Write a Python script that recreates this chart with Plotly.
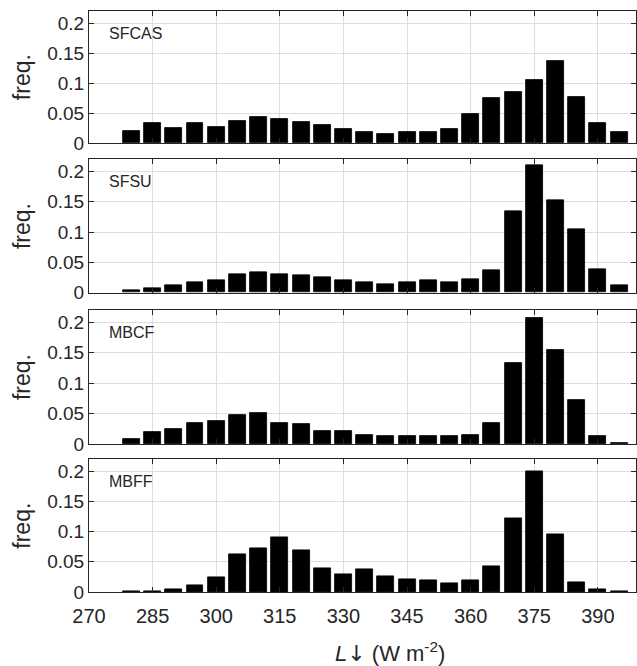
import plotly.graph_objects as go

# ---- data ----
bin_centers = [280, 285, 290, 295, 300, 305, 310, 315, 320, 325, 330, 335,
               340, 345, 350, 355, 360, 365, 370, 375, 380, 385, 390, 395]
sfcas = [0.020, 0.034, 0.026, 0.034, 0.027, 0.037, 0.043, 0.041, 0.035, 0.031, 0.023, 0.018,
         0.015, 0.018, 0.019, 0.023, 0.048, 0.076, 0.085, 0.105, 0.137, 0.077, 0.034, 0.019]
sfsu = [0.0044, 0.008, 0.012, 0.018, 0.021, 0.031, 0.033, 0.031, 0.029, 0.025, 0.020, 0.018,
        0.014, 0.018, 0.020, 0.017, 0.023, 0.037, 0.134, 0.210, 0.153, 0.104, 0.038, 0.012]
mbcf = [0.009, 0.019, 0.024, 0.034, 0.038, 0.048, 0.051, 0.035, 0.033, 0.022, 0.022, 0.015,
        0.013, 0.013, 0.013, 0.013, 0.015, 0.035, 0.133, 0.207, 0.155, 0.072, 0.014, 0.001]
mbff = [0.0005, 0.001, 0.004, 0.011, 0.024, 0.063, 0.073, 0.091, 0.069, 0.039, 0.029, 0.037,
        0.026, 0.021, 0.019, 0.014, 0.020, 0.043, 0.123, 0.200, 0.095, 0.016, 0.004, 0.001]
series = [sfcas, sfsu, mbcf, mbff]
panel_names = ["SFCAS", "SFSU", "MBCF", "MBFF"]

x_ticks = [270, 285, 300, 315, 330, 345, 360, 375, 390]
y_ticks = [0, 0.05, 0.1, 0.15, 0.2]
y_ticklabels = ["0", "0.05", "0.1", "0.15", "0.2"]

# ---- layout ----
W, H = 637, 666
mt, mb = 11, 74
domains = [[0.7723, 1.0], [0.5151, 0.7448], [0.2547, 0.4854], [0.0, 0.2284]]

FONT = "Liberation Sans, Arial, sans-serif"
TXT = "#262626"
AX = "#262626"
GRID = "#dedede"

fig = go.Figure()
layout = dict(
    width=W, height=H,
    margin=dict(l=89, r=1, t=mt, b=mb),
    plot_bgcolor="white", paper_bgcolor="white",
    showlegend=False, bargap=0,
    font=dict(family=FONT, color=TXT, size=19),
    annotations=[],
)

for i, (vals, name) in enumerate(zip(series, panel_names)):
    k = "" if i == 0 else str(i + 1)
    fig.add_trace(go.Bar(
        x=bin_centers, y=vals, width=4.0,
        marker=dict(color="black", line=dict(color="black", width=0.8)),
        xaxis="x" + k, yaxis="y" + k,
    ))
    last = (i == 3)
    layout["xaxis" + k] = dict(
        domain=[0, 1], anchor="y" + k, range=[270, 399],
        tickvals=x_ticks, showticklabels=last,
        ticks="inside", ticklen=5, tickcolor=AX, tickwidth=1,
        showline=True, linecolor=AX, linewidth=1, mirror="ticks",
        showgrid=True, gridcolor=GRID, gridwidth=1, zeroline=False,
        tickfont=dict(size=20, color=TXT, family=FONT),
        ticklabelstandoff=6,
        matches=None if i == 0 else "x",
    )
    layout["yaxis" + k] = dict(
        domain=domains[i], anchor="x" + k, range=[0, 0.22],
        tickvals=y_ticks, ticktext=y_ticklabels,
        ticks="inside", ticklen=5, tickcolor=AX, tickwidth=1,
        showline=True, linecolor=AX, linewidth=1, mirror="ticks",
        showgrid=True, gridcolor=GRID, gridwidth=1, zeroline=False,
        tickfont=dict(size=19, color=TXT, family=FONT),
        title=dict(text="freq.", font=dict(size=23, color=TXT, family=FONT), standoff=10),
    )
    layout["annotations"].append(dict(
        text=name, xref="x" + k + " domain", yref="y" + k + " domain",
        x=0.033, y=0.83, xanchor="left", yanchor="middle", showarrow=False,
        font=dict(size=16, color=TXT, family=FONT),
    ))

layout["annotations"].append(dict(
    text="<i>L</i><span style='font-family:DejaVu Sans'>\u2193</span> (W m<sup>-2</sup>)",
    xref="paper", yref="paper",
    x=0.55, y=0, xanchor="center", yanchor="middle", yshift=-60, showarrow=False,
    font=dict(size=22, color=TXT, family=FONT),
))

fig.update_layout(**layout)
fig.write_html("out.html")
